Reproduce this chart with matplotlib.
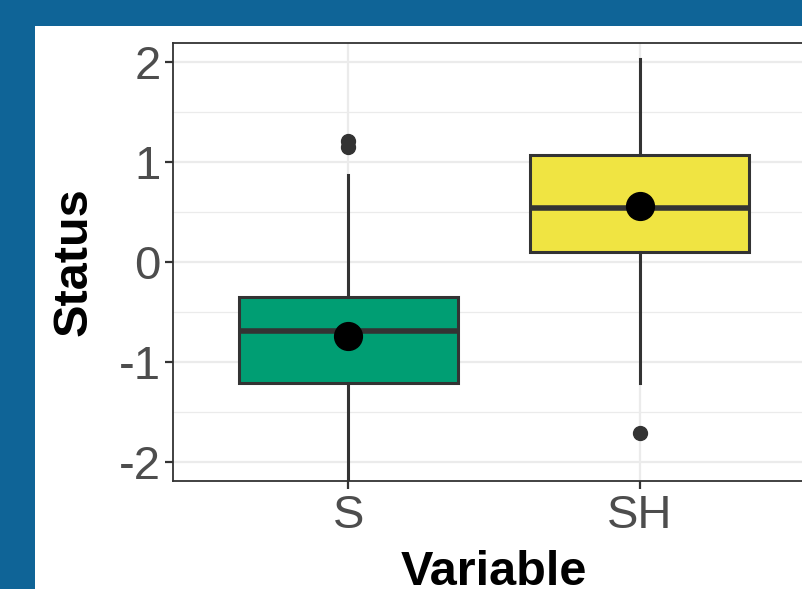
import matplotlib.pyplot as plt
import numpy as np

plt.rcParams['font.family'] = ['Liberation Sans', 'DejaVu Sans']
plt.rcParams['axes.unicode_minus'] = False

groups = ['S', 'SH']
colors = ['#009E73', '#F0E442']
q1 = [-1.21, 0.10]
q3 = [-0.35, 1.07]
medians = [-0.69, 0.54]
means = [-0.74, 0.56]
whis_lo = [-2.40, -1.21]
whis_hi = [0.87, 2.03]
outliers = [[1.21, 1.15], [-1.71]]

stats = []
for i, g in enumerate(groups):
    stats.append(dict(label=g, q1=q1[i], q3=q3[i], med=medians[i], mean=means[i],
                      whislo=whis_lo[i], whishi=whis_hi[i], fliers=outliers[i]))

fig = plt.figure(figsize=(8.03, 5.89), dpi=100)
fig.patch.set_facecolor('#0f6497')
# white slide panel
fig.add_artist(plt.Rectangle((35 / 803, 0), 1, (589 - 26) / 589,
                             transform=fig.transFigure, facecolor='white',
                             edgecolor='none', zorder=0))

ax = fig.add_axes([173 / 803, (589 - 481) / 589, (815 - 173) / 803, (481 - 43) / 589])
ax.set_facecolor('white')

edge = '#333333'
bp = ax.bxp(stats, positions=[1, 2], widths=0.75, patch_artist=True,
            showmeans=True, showcaps=False,
            boxprops=dict(edgecolor=edge, linewidth=2.2),
            whiskerprops=dict(color=edge, linewidth=2.2),
            medianprops=dict(color=edge, linewidth=4),
            meanprops=dict(marker='o', markerfacecolor='black', markeredgecolor='black',
                           markersize=20),
            flierprops=dict(marker='o', markerfacecolor=edge, markeredgecolor=edge,
                            markersize=10))
for patch, c in zip(bp['boxes'], colors):
    patch.set_facecolor(c)
for k in bp:
    for a in bp[k]:
        a.set_zorder(3)
for m in bp['means']:
    m.set_zorder(4)

ax.set_xlim(0.4, 2.6)
ax.set_ylim(-2.19, 2.19)
ax.set_yticks([-2, -1, 0, 1, 2])
ax.set_yticks([-1.5, -0.5, 0.5, 1.5], minor=True)
ax.set_xticks([1, 2])
ax.set_xticklabels(groups)

ax.grid(True, which='major', color='#ebebeb', linewidth=1.6, zorder=0)
ax.grid(True, which='minor', axis='y', color='#ebebeb', linewidth=0.9, zorder=0)
ax.set_axisbelow(True)

for s in ax.spines.values():
    s.set_color(edge)
    s.set_linewidth(1.3)
ax.tick_params(which='major', length=6, width=1.6, color=edge, labelcolor='#4d4d4d',
               labelsize=34, pad=3)
ax.tick_params(which='minor', length=0)

ax.set_xlabel('Variable', fontsize=35, fontweight='bold', labelpad=9)
ax.set_ylabel('Status', fontsize=35, fontweight='bold', labelpad=16)

fig.savefig('out.png', dpi=100, facecolor=fig.get_facecolor())
